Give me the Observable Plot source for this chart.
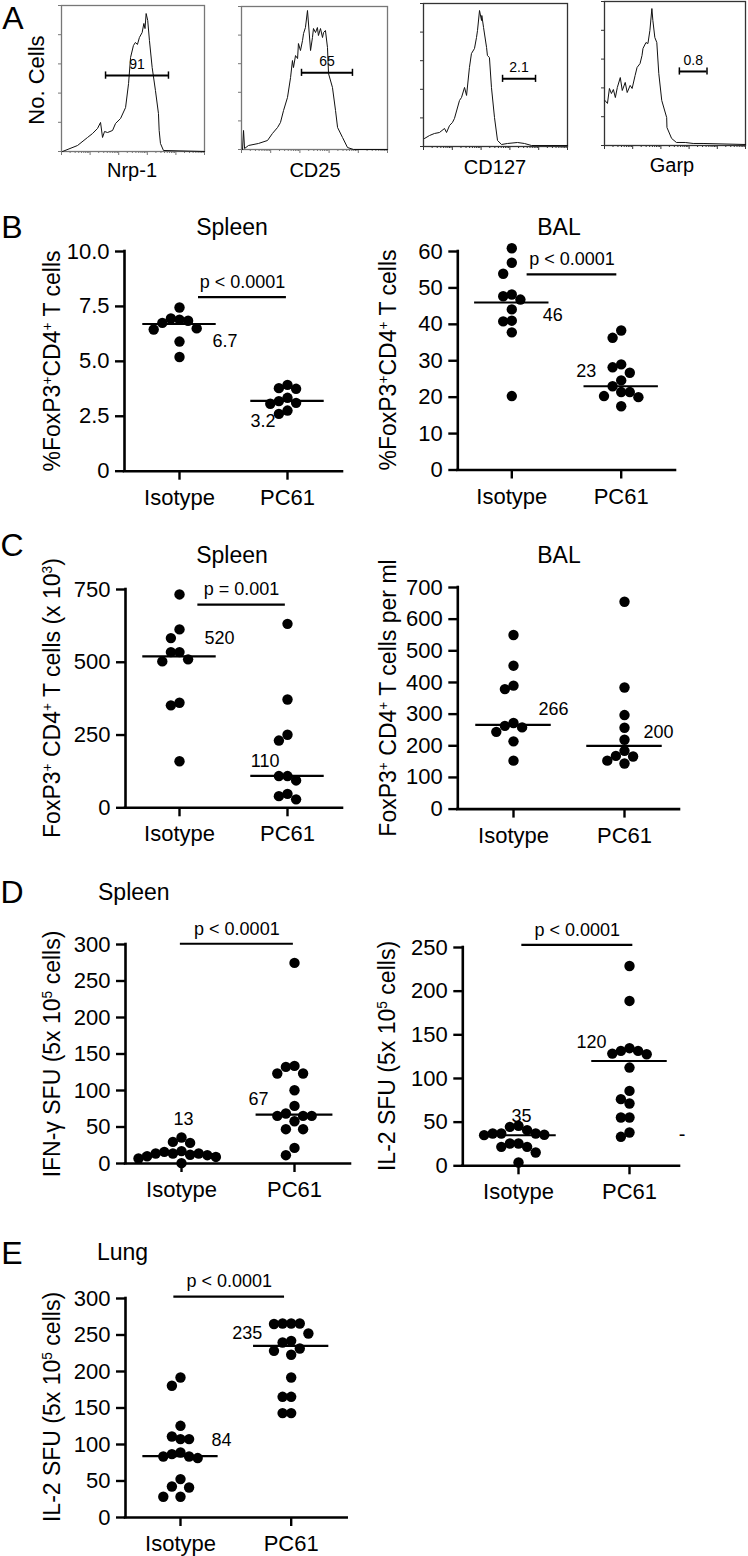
<!DOCTYPE html>
<html><head><meta charset="utf-8">
<script src="https://cdn.jsdelivr.net/npm/d3@7"></script>
<script src="https://cdn.jsdelivr.net/npm/@observablehq/plot@0.6"></script>
<style>
body{margin:0;background:#fff;}
#page{position:relative;width:748px;height:1556px;font-family:"Liberation Sans",Arial,sans-serif;color:#000;overflow:hidden;background:#fff;}
.abs{position:absolute;white-space:nowrap;line-height:1;}
.c{transform:translate(-50%,-50%);}
.lc{transform:translate(0,-50%);}
.rot{transform:translate(-50%,-50%) rotate(-90deg);}
sup{font-size:0.6em;vertical-align:0;position:relative;top:-0.6em;}
.plotbox{position:absolute;}
</style></head><body><div id="page"></div>
<script>
// ---------------- DATA ----------------
const groups = ["Isotype", "PC61"];

// Panel A histograms: [x (relative fluorescence position 0-100), y (% of peak)]
const histMarkers = ["Nrp-1", "CD25", "CD127", "Garp"];
const histGateText = ["91", "65", "2.1", "0.8"];
const nrp1 = [[0.7,0],[11.2,4.1],[18.2,9.6],[21.7,12.3],[25.2,15.8],[27.3,19.9],[28.7,9.6],[30.1,13.7],[32.2,13],[35.7,14.4],[37.8,19.2],[41.3,22.6],[44.8,30.1],[46.9,46.6],[48.3,64.4],[50.3,72.6],[51.7,74.7],[53.1,73.3],[54.5,78.1],[56.4,81.5],[57.6,87.7],[58.4,84.2],[59.2,94.5],[60.3,89.7],[61.5,76],[63.4,57.5],[65.7,41.8],[67.8,26],[68.3,14.4],[69.2,5.5],[71.3,0.7],[100,0]];
const cd25 = [[0.7,0],[1.4,13.3],[2.1,0.7],[4.8,2.8],[11.6,4.2],[17.8,6.3],[21.2,11.2],[24.7,15.4],[26.7,18.9],[28.8,27.3],[31.5,36.4],[33.6,50.3],[34.9,62.2],[35.6,57.3],[37,65.7],[38.4,63.6],[39,74.1],[40.4,69.2],[41.8,76.2],[42.5,81.1],[43.8,85.3],[45.2,97.2],[47.3,69.2],[48.6,78.3],[49.3,84.6],[50.7,81.8],[52,85.3],[52.7,79.7],[54.1,84.6],[55.5,78.3],[56.2,81.8],[57.5,83.2],[58.9,71.3],[59.6,53.1],[62.3,43.4],[64.4,27.3],[65.8,15.4],[69.2,8.4],[72.6,1.4],[76.7,0],[100,0]];
const cd127 = [[0.7,5.6],[4.2,7.7],[7.6,9.1],[11.1,9.8],[14.6,12.6],[16,9.8],[18.1,14.7],[20.1,16.8],[21.5,19.6],[25,32.2],[26.4,34.3],[28.5,41.3],[29.9,35.7],[31.9,55.2],[33.3,65],[35.4,68.5],[36.8,76.2],[37.5,81.1],[38.9,95.1],[40.3,88.1],[40.5,91.6],[41.7,83.2],[43.8,69.2],[44.4,63.6],[45.8,62.2],[47.2,41.3],[49.3,20.3],[51.4,4.2],[54.2,1.4],[58.3,2.1],[65.3,2.8],[70.1,2.1],[75,0.7],[100,0.7]];
const garp = [[0.3,31.3],[2.1,29.2],[3.5,39.6],[4.9,36.1],[6.3,38.9],[7.7,33.3],[9.1,40.3],[11.2,47.2],[12.6,38.2],[14.7,43.8],[16.1,36.8],[18.2,41.7],[19.6,39.6],[21.7,48.6],[23.1,54.2],[25.2,56.9],[26.6,62.5],[27.3,67.4],[29.4,71.5],[30.8,70.8],[32.2,79.9],[33.6,95.1],[34.3,86.8],[35.7,75],[37.1,71.5],[38.5,50],[40.6,31.3],[44.1,19.4],[44.3,12.5],[47.6,4.9],[51,2.1],[57.3,2.1],[62.9,1.4],[69.9,1.4],[100,0.7]];
const histGates = [
  {x1: 30.8, x2: 74.8, y: 52},
  {x1: 41.1, x2: 76.0, y: 53.6},
  {x1: 54.9, x2: 77.8, y: 47.3},
  {x1: 53.1, x2: 72.7, y: 51.4}
];

// Panel B: % FoxP3+CD4+ T cells
const bSpleenIso  = [7.45, 6.85, 6.95, 6.9, 6.75, 6.5, 6.45, 5.9, 5.2];
const bSpleenPC61 = [3.78, 3.75, 3.93, 3.34, 3.07, 3.19, 3.11, 2.61, 2.76];
const bSpleenMed  = [6.7, 3.2];
const bSpleenTicks = [0, 2.5, 5, 7.5, 10];
const bSpleenTickLabels = ["0", "2.5", "5.0", "7.5", "10.0"];
const bBalIso  = [60.9, 56.9, 53.9, 47.7, 48.2, 46.8, 44.1, 40.8, 41, 37.8, 20.3];
const bBalPC61 = [38.3, 36.3, 28.2, 29, 26.7, 24.6, 23, 20.3, 21.4, 21.4, 20, 17.5];
const bBalMed  = [46, 23];
const bBalTicks = [0, 10, 20, 30, 40, 50, 60];

// Panel C: FoxP3+ CD4+ T cell numbers
const cSpleenIso  = [733, 613, 583, 535, 503, 535, 510, 361, 352, 160];
const cSpleenPC61 = [632, 372, 231, 251, 109, 94, 109, 48, 29, 40];
const cSpleenMed  = [520, 110];
const cSpleenTicks = [0, 250, 500, 750];
const cBalIso  = [550, 453, 379, 390, 263, 244, 272, 258, 214, 153];
const cBalPC61 = [655, 384, 297, 257, 219, 166, 184, 168, 144, 153];
const cBalMed  = [266, 200];
const cBalTicks = [0, 100, 200, 300, 400, 500, 600, 700];

// Panel D: Spleen SFU
const dIfnIso  = [35.6, 29.6, 28.2, 17, 15.9, 13.7, 13.7, 13.7, 12, 11.4, 10, 9, 6.8, 0.5];
const dIfnPC61 = [274.8, 133.7, 123.3, 123.3, 132.3, 100.4, 78.9, 65.2, 65.2, 65.2, 68.5, 47, 47, 57.9, 21.4, 11.4];
const dIfnMed  = [13, 67];
const dIfnTicks = [0, 50, 100, 150, 200, 250, 300];
const dIl2Iso  = [45.8, 44.6, 37, 40.8, 37, 37, 35.5, 25.5, 35.1, 25.5, 21.7, 21.7, 15.2, 3.8];
const dIl2PC61 = [228.8, 188.8, 134.7, 131.6, 131.6, 128.5, 127.8, 112.5, 85.8, 76.3, 71.3, 55.3, 55.3, 38.1, 33.2];
const dIl2Med  = [35, 120];
const dIl2Ticks = [0, 50, 100, 150, 200, 250];

// Panel E: Lung IL-2 SFU
const eIso  = [191.8, 180.4, 125.6, 107.4, 107.4, 111, 83.6, 89, 81.4, 86.8, 83.6, 52.6, 41.1, 42.5, 28.4, 28.4];
const ePC61 = [265.8, 265.8, 265.8, 265, 252, 239.7, 242, 228.3, 222.9, 231.5, 191.8, 165.3, 165.3, 143, 143];
const eMed  = [84, 235];
const eTicks = [0, 50, 100, 150, 200, 250, 300];

// p-value comparisons (y in data units, x in group units)
const bSpleenP = {text: "p < 0.0001", y: 7.92, x1: 0.176, x2: 0.99};
const bBalP    = {text: "p < 0.0001", y: 53.7, x1: 0.14, x2: 0.96};
const cSpleenP = {text: "p = 0.001",  y: 698,  x1: 0.17, x2: 0.98};
const dIfnP    = {text: "p < 0.0001", y: 301,  x1: -0.01, x2: 0.99};
const dIl2P    = {text: "p < 0.0001", y: 252.9, x1: 0.03, x2: 1.03};
const eP       = {text: "p < 0.0001", y: 302.7, x1: -0.06, x2: 0.94};

// ---------------- LAYOUT ----------------
const FONT = "Liberation Sans, Arial, Helvetica, sans-serif";
const page = document.getElementById("page");
function addText(html, x, y, size, cls) {
  const d = document.createElement("div");
  d.className = "abs " + cls;
  d.style.left = x + "px"; d.style.top = y + "px"; d.style.fontSize = size + "px";
  d.innerHTML = html;
  page.appendChild(d);
}
function addPlot(svg, left, top) {
  const d = document.createElement("div");
  d.className = "plotbox";
  d.style.left = left + "px"; d.style.top = top + "px";
  d.appendChild(svg);
  page.appendChild(d);
}

// ----- Panel A -----
const histSeries = [nrp1, cd25, cd127, garp];
const histBoxes = [
  {x1: 61, x2: 204, y1: 5, y2: 151, stroke: "#777", lx: 132, ly: 170},
  {x1: 241, x2: 387, y1: 6, y2: 149, stroke: "#777", lx: 315, ly: 170},
  {x1: 423, x2: 567, y1: 3, y2: 146, stroke: "#333", lx: 495, ly: 167},
  {x1: 604, x2: 745, y1: 1, y2: 145, stroke: "#333", lx: 672, ly: 165}
];
const logTicks = [];
const logMajor = [];
for (let dcd = 0; dcd < 5; dcd++) for (let k = 1; k <= 9; k++) {
  const v = (dcd + Math.log10(k)) * 20;
  if (v <= 100) (k === 1 ? logMajor : logTicks).push(v);
}
logMajor.push(100);
histSeries.forEach((series, i) => {
  const B = histBoxes[i];
  const mL = 10, mR = 3, mT = 2, mB = 8;
  const svg = Plot.plot({
    width: B.x2 - B.x1 + mL + mR,
    height: B.y2 - B.y1 + mT + mB,
    marginLeft: mL, marginRight: mR, marginTop: mT, marginBottom: mB,
    style: {fontFamily: FONT, background: "transparent", overflow: "visible"},
    x: {domain: [0, 100]},
    y: {domain: [0, 100]},
    marks: [
      Plot.axisY({ticks: [0, 20, 40, 60, 80, 100], tickSize: 3, tickFormat: () => "", label: null, stroke: B.stroke}),
      Plot.axisX({ticks: logTicks, tickSize: 2, tickFormat: () => "", label: null, stroke: B.stroke}),
      Plot.axisX({ticks: logMajor, tickSize: 4, tickFormat: () => "", label: null, stroke: B.stroke}),
      Plot.frame({stroke: B.stroke, strokeWidth: 1.3}),
      Plot.line(series, {x: d => d[0], y: d => d[1], stroke: "#111", strokeWidth: 1}),
      Plot.ruleY([histGates[i]], {x1: "x1", x2: "x2", y: "y", strokeWidth: 2}),
      Plot.ruleX([histGates[i].x1, histGates[i].x2], {y1: histGates[i].y - 2.5, y2: histGates[i].y + 2.5, strokeWidth: 1.5}),
      Plot.text([histGates[i]], {x: d => (d.x1 + d.x2) / 2, y: "y", text: () => histGateText[i], dy: -11, fontSize: 14})
    ]
  });
  addPlot(svg, B.x1 - mL, B.y1 - mT);
  addText(histMarkers[i], B.lx, B.ly, 20, "c");
});
addText("No. Cells", 37, 80, 22, "rot");

// ----- Scatter panels -----
const panels = [
  {iso: bSpleenIso, pc: bSpleenPC61, med: bSpleenMed, ticks: bSpleenTicks, tickLabels: bSpleenTickLabels, p: bSpleenP,
   ylabel: "%FoxP3<sup>+</sup>CD4<sup>+</sup> T cells",
   L: {left: 0, axisX: 124, c1: 179, c2: 287, xEnd: 342, yTop: 251, y0: 470.7, labX: 52,
       med: [{a: "start", dx: 33, dy: 17}, {a: "end", dx: -12, dy: 20}]}},
  {iso: bBalIso, pc: bBalPC61, med: bBalMed, ticks: bBalTicks, p: bBalP,
   ylabel: "%FoxP3<sup>+</sup>CD4<sup>+</sup> T cells",
   L: {left: 374, axisX: 457.3, c1: 511.3, c2: 620.7, xEnd: 675, yTop: 251, y0: 469.5, labX: 388,
       med: [{a: "start", dx: 31, dy: 13}, {a: "end", dx: -25, dy: -15}]}},
  {iso: cSpleenIso, pc: cSpleenPC61, med: cSpleenMed, ticks: cSpleenTicks, p: cSpleenP,
   ylabel: "FoxP3<sup>+</sup> CD4<sup>+</sup> T cells (x 10<sup>3</sup>)",
   L: {left: 0, axisX: 125, c1: 179, c2: 287, xEnd: 342, yTop: 589, y0: 807.3, labX: 52,
       med: [{a: "start", dx: 25, dy: -18}, {a: "end", dx: -8, dy: -15}]}},
  {iso: cBalIso, pc: cBalPC61, med: cBalMed, ticks: cBalTicks, p: null,
   ylabel: "FoxP3<sup>+</sup> CD4<sup>+</sup> T cells per ml",
   L: {left: 374, axisX: 457.3, c1: 513, c2: 624, xEnd: 679, yTop: 586.7, y0: 808.3, labX: 388,
       med: [{a: "start", dx: 25, dy: -16}, {a: "start", dx: 19, dy: -14}]}},
  {iso: dIfnIso, pc: dIfnPC61, med: dIfnMed, ticks: dIfnTicks, p: dIfnP,
   ylabel: "IFN-γ SFU (5x 10<sup>5</sup> cells)",
   L: {left: 0, axisX: 125, c1: 181, c2: 294, xEnd: 350, yTop: 944.3, y0: 1163.3, labX: 52,
       med: [{a: "middle", dx: 2, dy: -35}, {a: "end", dx: -26, dy: -15}]}},
  {iso: dIl2Iso, pc: dIl2PC61, med: dIl2Med, ticks: dIl2Ticks, p: dIl2P,
   ylabel: "IL-2 SFU (5x 10<sup>5</sup> cells)",
   L: {left: 374, axisX: 462.3, c1: 518, c2: 629, xEnd: 679, yTop: 946.7, y0: 1165, labX: 387,
       med: [{a: "middle", dx: 3, dy: -19}, {a: "end", dx: -23, dy: -19}]}},
  {iso: eIso, pc: ePC61, med: eMed, ticks: eTicks, p: eP,
   ylabel: "IL-2 SFU (5x 10<sup>5</sup> cells)",
   L: {left: 0, axisX: 125, c1: 180, c2: 290.7, xEnd: 346.7, yTop: 1297.7, y0: 1516.7, labX: 52,
       med: [{a: "start", dx: 31, dy: -16}, {a: "end", dx: -29, dy: -13}]}}
];

function swarm(values, g, pxY, stepPx) {
  const sorted = values.slice().sort((a, b) => b - a);
  const placed = [];
  for (const v of sorted) {
    const y = v * pxY;
    for (let n = 0; ; n++) {
      const k = n === 0 ? 0 : (n % 2 ? -Math.ceil(n / 2) : Math.ceil(n / 2));
      if (placed.every(q => q.k !== k || Math.abs(q.y - y) >= 11)) { placed.push({k, y, v}); break; }
    }
  }
  return placed.map(q => ({g, v: q.v, x: g + q.k * 8.6 / stepPx}));
}

panels.forEach(P => {
  const L = P.L;
  const yMax = P.ticks[P.ticks.length - 1];
  const step = L.c2 - L.c1;
  const x0 = -(L.c1 - L.axisX) / step;
  const x1 = 1 + (L.xEnd - L.c2) / step;
  const mT = 50, mB = 50, mR = 30;
  const svgTop = L.yTop - mT;
  const mL = L.axisX - L.left;
  const width = L.xEnd - L.left + mR;
  const height = L.y0 - svgTop + mB;
  const pxY = (L.y0 - L.yTop) / yMax;
  const pts = [...swarm(P.iso, 0, pxY, step), ...swarm(P.pc, 1, pxY, step)];
  const medRows = P.med.map((v, g) => ({g, v}));
  const labMap = new Map(P.ticks.map((t, i) => [t, P.tickLabels ? P.tickLabels[i] : String(t)]));
  const marks = [
    Plot.ruleY([0], {strokeWidth: 2.6, strokeLinecap: "square"}),
    Plot.ruleX([x0], {strokeWidth: 2.6, strokeLinecap: "square"}),
    Plot.axisY({ticks: P.ticks, tickFormat: d => labMap.get(d), tickSize: 9, tickPadding: 6, strokeWidth: 2.4, fontSize: 22, label: null}),
    Plot.axisX({ticks: [0, 1], tickFormat: d => groups[d], tickSize: 9, tickPadding: 9, strokeWidth: 2.4, fontSize: 22, label: null}),
    Plot.dot(pts, {x: "x", y: "v", r: 5.2, fill: "#000", stroke: null}),
    Plot.ruleY(medRows, {x1: d => d.g - 0.34, x2: d => d.g + 0.34, y: "v", strokeWidth: 2.2})
  ];
  medRows.forEach((row, i) => {
    const s = L.med[i];
    marks.push(Plot.text([row], {x: "g", y: "v", text: d => String(d.v), textAnchor: s.a, dx: s.dx, dy: s.dy, fontSize: 18}));
  });
  if (P.p) {
    marks.push(Plot.ruleY([P.p], {x1: "x1", x2: "x2", y: "y", strokeWidth: 2.2}));
    marks.push(Plot.text([P.p], {x: d => (d.x1 + d.x2) / 2, y: "y", text: "text", dy: -15, fontSize: 18}));
  }
  const svg = Plot.plot({
    width, height,
    marginLeft: mL, marginRight: mR, marginTop: mT, marginBottom: mB,
    style: {fontFamily: FONT, fontSize: "22px", background: "transparent", overflow: "visible"},
    x: {domain: [x0, x1]},
    y: {domain: [0, yMax]},
    marks
  });
  addPlot(svg, L.left, svgTop);
  addText(P.ylabel, L.labX, (L.yTop + L.y0) / 2, 23, "rot");
});

// Panel letters and titles
addText("A", 13, 18, 32, "c");
addText("B", 12, 227, 32, "c");
addText("C", 12, 545, 32, "c");
addText("D", 12, 892, 32, "c");
addText("E", 12, 1253, 32, "c");
addText("Spleen", 232, 227, 23, "c");
addText("BAL", 559, 227, 23, "c");
addText("Spleen", 232, 555, 23, "c");
addText("BAL", 559, 555, 23, "c");
addText("Spleen", 98, 892, 23, "lc");
addText("Lung", 97, 1252, 23, "lc");
addText("-", 682, 1134, 20, "c");
</script></body></html>
